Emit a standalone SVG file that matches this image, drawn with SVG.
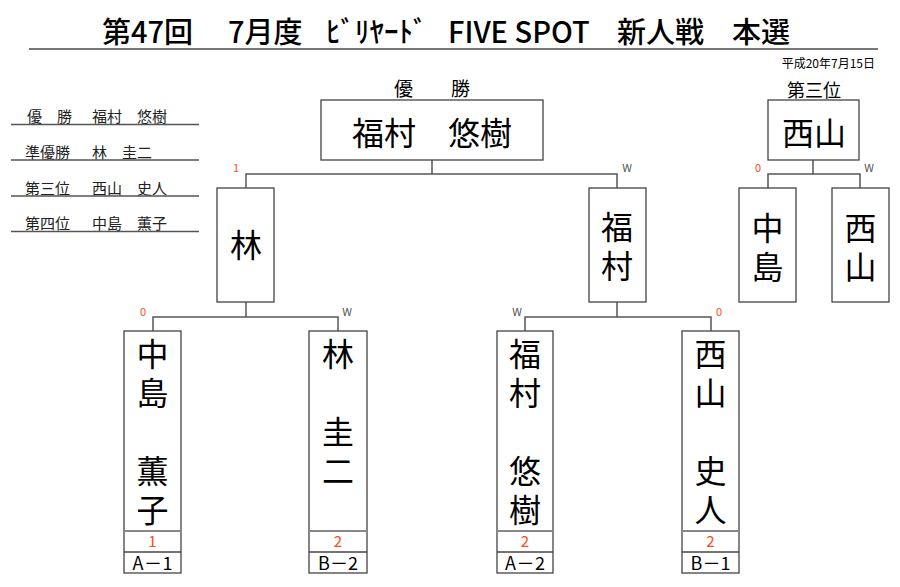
<svg xmlns="http://www.w3.org/2000/svg" width="900" height="587" viewBox="0 0 900 587">
<style>
text{font-family:"Noto Sans CJK JP","Noto Sans",sans-serif;fill:#000}
.box{fill:#fff;stroke:#444;stroke-width:1.3}
.ln{stroke:#555;stroke-width:1.5;fill:none}
.ul{stroke:#555;stroke-width:1.3}
.nm{font-size:32px;text-anchor:middle}
.vn{font-size:32px;writing-mode:vertical-rl;letter-spacing:7px}
.lst{font-size:15px;fill:#222}
.w{font-size:11px;fill:#555;text-anchor:middle}
.r{font-size:11px;fill:#ff4a1a;text-anchor:middle}
.sc{font-size:15px;fill:#ff4a1a;text-anchor:middle}
.lb{font-size:18px;text-anchor:middle}
</style>
<rect width="900" height="587" fill="#fff"/>
<g id="title">
<text font-size="29" font-weight="500" y="43"><tspan x="102">第47回</tspan><tspan x="228">7月度</tspan><tspan x="326">ﾋﾞﾘﾔｰﾄﾞ</tspan><tspan x="448">FIVE SPOT</tspan><tspan x="617">新人戦</tspan><tspan x="732">本選</tspan></text>
<line x1="29" y1="49" x2="878" y2="49" stroke="#777" stroke-width="2"/>
<text x="875" y="68" font-size="12" text-anchor="end" fill="#222">平成20年7月15日</text>
</g>
<g id="list">
<text class="lst" y="122"><tspan x="27">優</tspan><tspan x="57">勝</tspan><tspan x="92">福村　悠樹</tspan></text>
<line class="ul" x1="11" y1="124.5" x2="199" y2="124.5"/>
<text class="lst" y="158"><tspan x="25">準優勝</tspan><tspan x="92">林　圭二</tspan></text>
<line class="ul" x1="11" y1="160" x2="199" y2="160"/>
<text class="lst" y="194"><tspan x="25">第三位</tspan><tspan x="92">西山　史人</tspan></text>
<line class="ul" x1="11" y1="196" x2="199" y2="196"/>
<text class="lst" y="229"><tspan x="25">第四位</tspan><tspan x="92">中島　薫子</tspan></text>
<line class="ul" x1="11" y1="231.5" x2="199" y2="231.5"/>
</g>
<g id="connectors">
<path class="ln" d="M432 160V174M246 188V174H617V188"/>
<path class="ln" d="M246 302V317M153 331V317H338V331"/>
<path class="ln" d="M617 302V317M525 331V317H711V331"/>
<path class="ln" d="M813 160V174M768 188V174H860V188"/>
</g>
<g id="marks">
<text class="r" x="236" y="172">1</text>
<text class="w" x="627" y="172">W</text>
<text class="r" x="758" y="172">0</text>
<text class="w" x="869" y="172">W</text>
<text class="r" x="143" y="316">0</text>
<text class="w" x="347" y="316">W</text>
<text class="w" x="517" y="316">W</text>
<text class="r" x="719" y="316">0</text>
</g>
<g id="champion">
<text x="432" y="96" font-size="19" text-anchor="middle" fill="#222">優　　勝</text>
<rect class="box" x="321" y="100" width="222" height="60"/>
<text class="nm" x="432" y="145">福村　悠樹</text>
</g>
<g id="third">
<text x="814" y="97" font-size="18" text-anchor="middle" fill="#222">第三位</text>
<rect class="box" x="768" y="100" width="91" height="60"/>
<text class="nm" x="814" y="145">西山</text>
</g>
<g id="semi-hayashi">
<rect class="box" x="217" y="188" width="57" height="114"/>
<text class="nm" x="246" y="257">林</text>
</g>
<g id="semi-fukumura">
<rect class="box" x="589" y="188" width="57" height="114"/>
<text class="vn" x="617" y="211">福村</text>
</g>
<g id="third-nakajima">
<rect class="box" x="739" y="188" width="57" height="114"/>
<text class="vn" x="767.5" y="212">中島</text>
</g>
<g id="third-nishiyama">
<rect class="box" x="832" y="188" width="57" height="114"/>
<text class="vn" x="860.5" y="212">西山</text>
</g>
<g id="p-nakajima">
<rect class="box" x="124" y="331" width="57" height="242"/>
<line x1="124" y1="531" x2="181" y2="531" stroke="#888" stroke-width="2"/>
<line x1="124" y1="552" x2="181" y2="552" stroke="#444" stroke-width="1.3"/>
<text class="vn" x="152.5" y="338">中島　薫子</text>
<text class="sc" x="152.5" y="547">1</text>
<text class="lb" x="152.5" y="570" textLength="40" lengthAdjust="spacing">A－1</text>
</g>
<g id="p-hayashi">
<rect class="box" x="309" y="331" width="58" height="242"/>
<line x1="309" y1="531" x2="367" y2="531" stroke="#888" stroke-width="2"/>
<line x1="309" y1="552" x2="367" y2="552" stroke="#444" stroke-width="1.3"/>
<text class="vn" x="338" y="338">林　圭二</text>
<text class="sc" x="338" y="547">2</text>
<text class="lb" x="338" y="570" textLength="40" lengthAdjust="spacing">B－2</text>
</g>
<g id="p-fukumura">
<rect class="box" x="497" y="331" width="56" height="242"/>
<line x1="497" y1="531" x2="553" y2="531" stroke="#888" stroke-width="2"/>
<line x1="497" y1="552" x2="553" y2="552" stroke="#444" stroke-width="1.3"/>
<text class="vn" x="525" y="338">福村　悠樹</text>
<text class="sc" x="525" y="547">2</text>
<text class="lb" x="525" y="570" textLength="40" lengthAdjust="spacing">A－2</text>
</g>
<g id="p-nishiyama">
<rect class="box" x="682" y="331" width="57" height="242"/>
<line x1="682" y1="531" x2="739" y2="531" stroke="#888" stroke-width="2"/>
<line x1="682" y1="552" x2="739" y2="552" stroke="#444" stroke-width="1.3"/>
<text class="vn" x="710.5" y="338">西山　史人</text>
<text class="sc" x="710.5" y="547">2</text>
<text class="lb" x="710.5" y="570" textLength="40" lengthAdjust="spacing">B－1</text>
</g>
</svg>
